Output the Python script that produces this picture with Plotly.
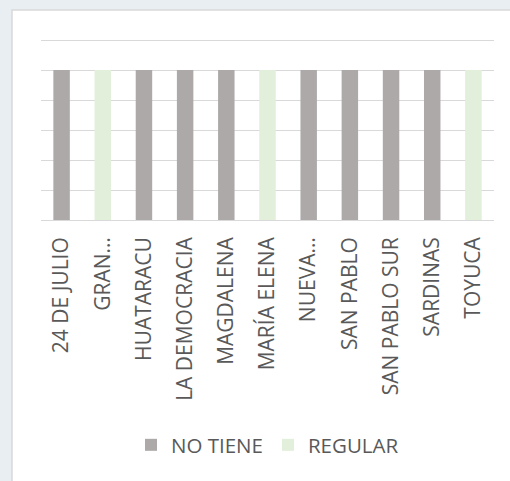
import plotly.graph_objects as go

categories = ["24 DE JULIO", "GRAN…", "HUATARACU", "LA DEMOCRACIA", "MAGDALENA",
              "MARÍA ELENA", "NUEVA…", "SAN PABLO", "SAN PABLO SUR", "SARDINAS", "TOYUCA"]
no_tiene = [1, None, 1, 1, 1, None, 1, 1, 1, 1, None]
regular = [None, 1, None, None, None, 1, None, None, None, None, 1]
tick_vals = [0, 0.2, 0.4, 0.6, 0.8, 1.0, 1.2]

W, H = 510, 481
ml, mr, mt, mb = 41, 16, 37, 261
pw, ph = W - ml - mr, H - mt - mb

def px_to_paper_x(px):
    return (px - ml) / pw

def px_to_paper_y(py):
    return (H - mb - py) / ph

fig = go.Figure()
fig.add_trace(go.Bar(x=categories, y=no_tiene, name="NO TIENE",
                     marker=dict(color="#ADA9A9", line=dict(width=0)), width=0.4))
fig.add_trace(go.Bar(x=categories, y=regular, name="REGULAR",
                     marker=dict(color="#E2EFDA", line=dict(width=0)), width=0.4))

fig.add_shape(type="rect", xref="paper", yref="paper", layer="below",
              x0=px_to_paper_x(12), x1=px_to_paper_x(512),
              y0=px_to_paper_y(484), y1=px_to_paper_y(10),
              fillcolor="white", line=dict(color="#D9D9D9", width=1.5))

font_family = "Open Sans, DejaVu Sans, sans-serif"

fig.update_layout(
    width=W, height=H,
    margin=dict(l=ml, r=mr, t=mt, b=mb, pad=0),
    paper_bgcolor="#E9EEF2",
    plot_bgcolor="rgba(0,0,0,0)",
    barmode="overlay",
    showlegend=True,
    legend=dict(orientation="h", x=0.5, xanchor="center", y=px_to_paper_y(425),
                yanchor="top", font=dict(family=font_family, size=20.5, color="#595959"),
                bgcolor="rgba(0,0,0,0)", itemwidth=30, traceorder="normal"),
    font=dict(family=font_family, color="#595959"),
)
fig.update_xaxes(tickangle=-90, tickfont=dict(family=font_family, size=21, color="#595959"),
                 showgrid=False, showline=False, ticks="", ticklabelstandoff=12,
                 fixedrange=True)
fig.update_yaxes(range=[0, 1.22], tickvals=tick_vals, showticklabels=False,
                 showgrid=True, gridcolor="#D9D9D9", gridwidth=1.3,
                 zeroline=True, zerolinecolor="#D9D9D9", zerolinewidth=1.3,
                 showline=False, ticks="", fixedrange=True)

fig.write_html("out.html", config={"displayModeBar": False},
               post_script="document.body.style.margin='0';")
